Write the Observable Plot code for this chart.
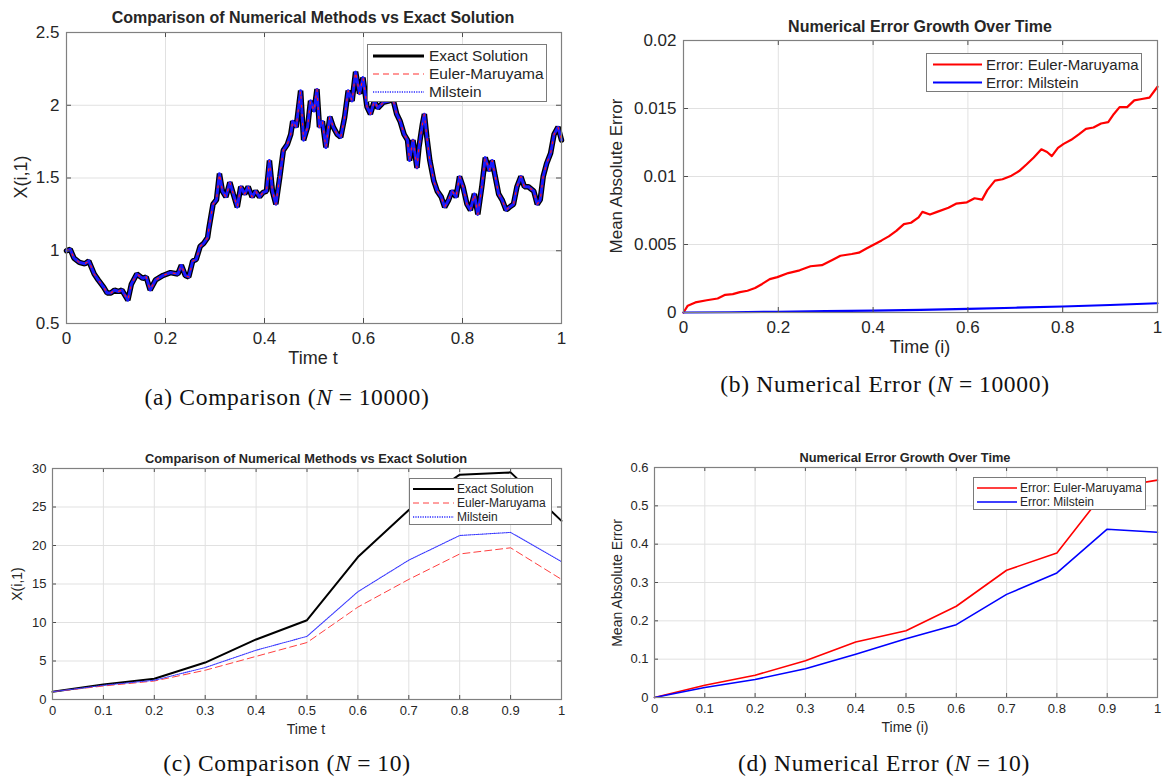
<!DOCTYPE html>
<html><head><meta charset="utf-8">
<script src="https://cdn.jsdelivr.net/npm/d3@7"></script>
<script src="https://cdn.jsdelivr.net/npm/@observablehq/plot@0.6"></script>
<style>
body{margin:0;background:#fff;}
#root{position:relative;width:1164px;height:781px;overflow:hidden;background:#fff;font-family:"Liberation Sans",Arial,sans-serif;color:#262626;}
.abs{position:absolute;white-space:nowrap;}
.ttl{font-weight:bold;color:#262626;transform:translate(-50%,-50%);}
.lab{color:#262626;transform:translate(-50%,-50%);}
.ylab{color:#262626;transform:translate(-50%,-50%) rotate(-90deg);}
.cap{font-family:"Liberation Serif","Times New Roman",serif;color:#111;transform:translate(-50%,-50%);letter-spacing:0.7px;}
.cap .eq{margin:0 6px;}
.leg{border:1px solid #7a7a7a;background:#fff;box-sizing:border-box;}
.leg .row{position:absolute;left:0;display:flex;align-items:center;transform:translateY(-50%);}
.leg svg{display:block;}
</style></head>
<body><div id="root"></div>
<script>
// ---------- Data ----------
// (a) N = 10000 : sample path
const tA = [0,0.0075,0.015,0.026,0.037,0.045,0.056,0.064,0.075,0.082,0.09,0.097,0.105,0.112,0.124,0.131,0.142,0.154,0.161,0.169,0.18,0.195,0.21,0.225,0.232,0.24,0.247,0.255,0.262,0.27,0.277,0.285,0.288,0.296,0.303,0.309,0.315,0.322,0.33,0.337,0.345,0.352,0.36,0.367,0.375,0.382,0.39,0.397,0.404,0.41,0.416,0.423,0.431,0.438,0.446,0.453,0.457,0.464,0.473,0.479,0.487,0.493,0.5,0.506,0.511,0.517,0.524,0.532,0.539,0.547,0.554,0.562,0.569,0.577,0.584,0.592,0.599,0.607,0.614,0.622,0.629,0.64,0.652,0.659,0.667,0.674,0.682,0.689,0.693,0.7,0.708,0.712,0.719,0.723,0.728,0.734,0.742,0.749,0.757,0.764,0.772,0.779,0.787,0.794,0.801,0.809,0.816,0.824,0.831,0.839,0.846,0.854,0.86,0.865,0.873,0.88,0.888,0.895,0.903,0.91,0.918,0.925,0.933,0.944,0.951,0.957,0.963,0.97,0.978,0.985,0.993,1];
const exactA = [1.0,1.01,0.95,0.92,0.91,0.93,0.84,0.8,0.75,0.71,0.71,0.73,0.72,0.73,0.66,0.77,0.84,0.81,0.82,0.73,0.8,0.83,0.85,0.84,0.9,0.83,0.82,0.93,0.94,1.03,1.05,1.09,1.16,1.32,1.35,1.53,1.41,1.37,1.47,1.39,1.3,1.44,1.39,1.44,1.37,1.41,1.37,1.4,1.41,1.62,1.41,1.32,1.51,1.69,1.73,1.8,1.89,1.85,2.1,1.76,1.85,2.03,1.96,2.11,1.85,1.89,1.71,1.92,1.85,1.8,1.78,1.92,2.1,2.03,2.23,2.08,2.19,1.99,1.94,2.03,1.98,2.02,2.03,2.05,1.94,1.89,1.8,1.76,1.62,1.76,1.57,1.71,1.87,1.94,1.78,1.62,1.48,1.41,1.37,1.3,1.35,1.41,1.37,1.51,1.44,1.32,1.28,1.39,1.25,1.44,1.64,1.55,1.62,1.53,1.39,1.35,1.28,1.3,1.32,1.44,1.51,1.44,1.44,1.41,1.32,1.35,1.51,1.6,1.67,1.8,1.85,1.76];
// Euler-Maruyama and Milstein paths coincide with the exact path at this scale
const eulerA = [1.0,1.01,0.95,0.92,0.91,0.93,0.84,0.8,0.75,0.71,0.71,0.73,0.72,0.73,0.66,0.77,0.84,0.81,0.82,0.73,0.8,0.83,0.85,0.84,0.9,0.83,0.82,0.93,0.94,1.03,1.05,1.09,1.16,1.32,1.35,1.53,1.41,1.37,1.47,1.39,1.3,1.44,1.39,1.44,1.37,1.41,1.37,1.4,1.41,1.62,1.41,1.32,1.51,1.69,1.73,1.8,1.89,1.85,2.1,1.76,1.85,2.03,1.96,2.11,1.85,1.89,1.71,1.92,1.85,1.8,1.78,1.92,2.1,2.03,2.23,2.08,2.19,1.99,1.94,2.03,1.98,2.02,2.03,2.05,1.94,1.89,1.8,1.76,1.62,1.76,1.57,1.71,1.87,1.94,1.78,1.62,1.48,1.41,1.37,1.3,1.35,1.41,1.37,1.51,1.44,1.32,1.28,1.39,1.25,1.44,1.64,1.55,1.62,1.53,1.39,1.35,1.28,1.3,1.32,1.44,1.51,1.44,1.44,1.41,1.32,1.35,1.51,1.6,1.67,1.8,1.85,1.76];
const milsteinA = [1.0,1.01,0.95,0.92,0.91,0.93,0.84,0.8,0.75,0.71,0.71,0.73,0.72,0.73,0.66,0.77,0.84,0.81,0.82,0.73,0.8,0.83,0.85,0.84,0.9,0.83,0.82,0.93,0.94,1.03,1.05,1.09,1.16,1.32,1.35,1.53,1.41,1.37,1.47,1.39,1.3,1.44,1.39,1.44,1.37,1.41,1.37,1.4,1.41,1.62,1.41,1.32,1.51,1.69,1.73,1.8,1.89,1.85,2.1,1.76,1.85,2.03,1.96,2.11,1.85,1.89,1.71,1.92,1.85,1.8,1.78,1.92,2.1,2.03,2.23,2.08,2.19,1.99,1.94,2.03,1.98,2.02,2.03,2.05,1.94,1.89,1.8,1.76,1.62,1.76,1.57,1.71,1.87,1.94,1.78,1.62,1.48,1.41,1.37,1.3,1.35,1.41,1.37,1.51,1.44,1.32,1.28,1.39,1.25,1.44,1.64,1.55,1.62,1.53,1.39,1.35,1.28,1.3,1.32,1.44,1.51,1.44,1.44,1.41,1.32,1.35,1.51,1.6,1.67,1.8,1.85,1.76];

// (b) N = 10000 : mean absolute error
const tB = [0,0.009,0.025,0.049,0.072,0.088,0.104,0.119,0.135,0.151,0.166,0.182,0.198,0.221,0.245,0.268,0.292,0.316,0.331,0.355,0.37,0.386,0.402,0.418,0.433,0.449,0.465,0.48,0.496,0.504,0.52,0.535,0.559,0.575,0.598,0.614,0.63,0.641,0.657,0.673,0.692,0.708,0.724,0.739,0.755,0.767,0.777,0.79,0.802,0.818,0.834,0.849,0.865,0.881,0.896,0.908,0.92,0.936,0.951,0.967,0.983,1];
const errEulerB = [0,0.0005,0.00074,0.0009,0.00103,0.0013,0.00135,0.0015,0.0016,0.0018,0.0021,0.00245,0.0026,0.0029,0.0031,0.0034,0.00348,0.0039,0.00417,0.0043,0.0044,0.0047,0.005,0.0053,0.0056,0.006,0.0065,0.0066,0.007,0.0074,0.0072,0.0074,0.0077,0.008,0.0081,0.0084,0.0083,0.009,0.0097,0.0098,0.01006,0.0104,0.0109,0.0114,0.012,0.0118,0.0115,0.0121,0.0124,0.0127,0.0131,0.0135,0.0136,0.0139,0.014,0.0146,0.0151,0.0151,0.0156,0.0157,0.0158,0.0166];
const tBm = [0,0.1,0.2,0.3,0.4,0.5,0.6,0.7,0.8,0.9,1];
const errMilsteinB = [0,0.00002,0.00005,0.0001,0.00014,0.0002,0.00027,0.00035,0.00044,0.00055,0.00068];

// (c) N = 10
const tC = [0,0.1,0.2,0.3,0.4,0.5,0.6,0.7,0.8,0.9,1];
const exactC = [1.0,1.95,2.7,4.8,7.8,10.3,18.5,24.6,29.2,29.5,23.2];
const eulerC = [1.0,1.75,2.4,3.8,5.6,7.4,12.0,15.6,18.9,19.7,15.6];
const milsteinC = [1.0,1.85,2.5,4.15,6.4,8.2,14.0,18.1,21.3,21.7,17.9];

// (d) N = 10
const errEulerD = [0,0.032,0.058,0.096,0.145,0.174,0.238,0.332,0.377,0.545,0.567];
const errMilsteinD = [0,0.026,0.047,0.075,0.113,0.153,0.19,0.269,0.325,0.439,0.431];

// ticks
const xTicks5 = [0,0.2,0.4,0.6,0.8,1];
const xTicks10 = [0,0.1,0.2,0.3,0.4,0.5,0.6,0.7,0.8,0.9,1];
const yTicksA = [0.5,1,1.5,2,2.5];
const yTicksB = [0,0.005,0.01,0.015,0.02];
const yTicksC = [0,5,10,15,20,25,30];
const yTicksD = [0,0.1,0.2,0.3,0.4,0.5,0.6];

// ---------- Drawing ----------
const root = document.getElementById("root");
const fmt = d => String(+d.toFixed(4));
const rows = (t, v) => t.map((x, i) => ({t: x, v: v[i]}));

function panel(o) {
  const ph = o.height - o.mt - o.mb, pw = o.width - o.ml - o.mr, tk = o.tk;
  const svg = Plot.plot({
    width: o.width, height: o.height,
    marginLeft: o.ml, marginRight: o.mr, marginTop: o.mt, marginBottom: o.mb,
    style: {fontFamily: '"Liberation Sans", Arial, sans-serif', color: "#262626", background: "transparent", overflow: "visible"},
    x: {domain: [0, 1]},
    y: {domain: o.yDomain},
    marks: [
      Plot.gridX(o.xTicks, {stroke: "#e1e1e1", strokeOpacity: 1, strokeWidth: 1}),
      Plot.gridY(o.yTicks, {stroke: "#e1e1e1", strokeOpacity: 1, strokeWidth: 1}),
      ...o.marks,
      Plot.ruleX(o.xTicks, {stroke: "#4d4d4d", insetTop: ph - tk}),
      Plot.ruleX(o.xTicks, {stroke: "#4d4d4d", insetBottom: ph - tk}),
      Plot.ruleY(o.yTicks, {stroke: "#4d4d4d", insetRight: pw - tk}),
      Plot.ruleY(o.yTicks, {stroke: "#4d4d4d", insetLeft: pw - tk}),
      Plot.frame({stroke: "#808080", strokeWidth: 1.2}),
      Plot.axisX(o.xTicks, {tickSize: 0, tickPadding: o.xPad, fontSize: o.fs, tickFormat: fmt, label: null, fill: "#262626"}),
      Plot.axisY(o.yTicks, {tickSize: 0, tickPadding: o.yPad, fontSize: o.fs, tickFormat: fmt, label: null, fill: "#262626"})
    ]
  });
  svg.style.position = "absolute";
  svg.style.left = o.left + "px";
  svg.style.top = o.top + "px";
  root.appendChild(svg);
}

function text(cls, html, x, y, size) {
  const d = document.createElement("div");
  d.className = "abs " + cls;
  d.innerHTML = html;
  d.style.left = x + "px"; d.style.top = y + "px"; d.style.fontSize = size + "px";
  root.appendChild(d);
}

function legend(x, y, w, h, size, items, sw) {
  const d = document.createElement("div");
  d.className = "abs leg";
  Object.assign(d.style, {left: x + "px", top: y + "px", width: w + "px", height: h + "px", fontSize: size + "px"});
  items.forEach(it => {
    const r = document.createElement("div");
    r.className = "row";
    r.style.top = it.y + "px";
    r.style.left = it.x0 + "px";
    r.innerHTML = `<svg width="${sw}" height="8"><line x1="0" x2="${sw}" y1="4" y2="4" stroke="${it.c}" stroke-width="${it.w}" ${it.dash ? `stroke-dasharray="${it.dash}"` : ""}/></svg><span style="margin-left:${it.gap}px">${it.label}</span>`;
    d.appendChild(r);
  });
  root.appendChild(d);
}

const cap = (a, b, n) => `${a} ${b} (<i>N</i><span class="eq">=</span>${n})`;

// (a)
panel({left: 0, top: 0, width: 580, height: 362, ml: 66, mr: 19, mt: 32, mb: 39,
  yDomain: [0.5, 2.5], xTicks: xTicks5, yTicks: yTicksA, fs: 17, xPad: 8, yPad: 7, tk: 5,
  marks: [
    Plot.line(rows(tA, exactA), {x: "t", y: "v", stroke: "#000", strokeWidth: 5.5, strokeLinejoin: "miter"}),
    Plot.line(rows(tA, milsteinA), {x: "t", y: "v", stroke: "#1a1aff", strokeWidth: 3, strokeDasharray: "2,1"}),
    Plot.line(rows(tA, eulerA), {x: "t", y: "v", stroke: "#ff1a1a", strokeWidth: 1.2, strokeDasharray: "2,7"})
  ]});
text("ttl", "Comparison of Numerical Methods vs Exact Solution", 313, 18, 16);
text("lab", "Time t", 313, 358, 18);
text("ylab", "X(i,1)", 21, 177, 18);
legend(367, 44, 180, 58, 15.5, [
  {y: 11, x0: 5, c: "#000", w: 3, label: "Exact Solution", gap: 5},
  {y: 29, x0: 5, c: "#ff3030", w: 1.2, dash: "6,4", label: "Euler-Maruyama", gap: 5},
  {y: 47, x0: 5, c: "#2a2aff", w: 1.5, dash: "1.2,1.2", label: "Milstein", gap: 5}
], 51);
text("cap", cap("(a)", "Comparison", "10000"), 287, 397, 23.5);

// (b)
panel({left: 580, top: 0, width: 584, height: 350, ml: 103, mr: 7, mt: 40, mb: 38,
  yDomain: [0, 0.02], xTicks: xTicks5, yTicks: yTicksB, fs: 17, xPad: 8, yPad: 7, tk: 5,
  marks: [
    Plot.line(rows(tB, errEulerB), {x: "t", y: "v", stroke: "#ff0000", strokeWidth: 2.2}),
    Plot.line(rows(tBm, errMilsteinB), {x: "t", y: "v", stroke: "#0000ff", strokeWidth: 2.2})
  ]});
text("ttl", "Numerical Error Growth Over Time", 920, 27, 16);
text("lab", "Time (i)", 920, 347, 18);
text("ylab", "Mean Absolute Error", 617, 176, 17);
legend(926, 53, 216, 39, 15, [
  {y: 10, x0: 6, c: "#ff0000", w: 2, label: "Error: Euler-Maruyama", gap: 4},
  {y: 28, x0: 6, c: "#0000ff", w: 2, label: "Error: Milstein", gap: 4}
], 49);
text("cap", cap("(b)", "Numerical Error", "10000"), 885, 384, 23.5);

// (c)
panel({left: 0, top: 440, width: 580, height: 300, ml: 52, mr: 19, mt: 28, mb: 41,
  yDomain: [0, 30], xTicks: xTicks10, yTicks: yTicksC, fs: 13, xPad: 6, yPad: 6, tk: 4,
  marks: [
    Plot.line(rows(tC, exactC), {x: "t", y: "v", stroke: "#000", strokeWidth: 2}),
    Plot.line(rows(tC, eulerC), {x: "t", y: "v", stroke: "#ff4040", strokeWidth: 1, strokeDasharray: "7,4"}),
    Plot.line(rows(tC, milsteinC), {x: "t", y: "v", stroke: "#3a3aff", strokeWidth: 1.1, strokeDasharray: "1,1"})
  ]});
text("ttl", "Comparison of Numerical Methods vs Exact Solution", 306, 458, 12.8);
text("lab", "Time t", 306, 729, 14);
text("ylab", "X(i,1)", 17, 584, 14);
legend(409, 478, 143, 47, 12, [
  {y: 10, x0: 3, c: "#000", w: 2.2, label: "Exact Solution", gap: 3},
  {y: 24, x0: 3, c: "#ff4040", w: 1, dash: "6,4", label: "Euler-Maruyama", gap: 3},
  {y: 38, x0: 3, c: "#2a2aff", w: 1.3, dash: "1.2,1.2", label: "Milstein", gap: 3}
], 41);
text("cap", cap("(c)", "Comparison", "10"), 287, 763, 23.5);

// (d)
panel({left: 580, top: 440, width: 584, height: 300, ml: 74, mr: 7, mt: 27, mb: 43,
  yDomain: [0, 0.6], xTicks: xTicks10, yTicks: yTicksD, fs: 13, xPad: 6, yPad: 6, tk: 4,
  marks: [
    Plot.line(rows(tC, errEulerD), {x: "t", y: "v", stroke: "#ff0000", strokeWidth: 1.6}),
    Plot.line(rows(tC, errMilsteinD), {x: "t", y: "v", stroke: "#0000ff", strokeWidth: 1.6})
  ]});
text("ttl", "Numerical Error Growth Over Time", 905, 457, 12.8);
text("lab", "Time (i)", 905, 727, 14);
text("ylab", "Mean Absolute Error", 617, 583, 14);
legend(973, 477, 173, 33, 12, [
  {y: 10, x0: 3, c: "#ff0000", w: 1.6, label: "Error: Euler-Maruyama", gap: 3},
  {y: 24, x0: 3, c: "#0000ff", w: 1.6, label: "Error: Milstein", gap: 3}
], 40);
text("cap", cap("(d)", "Numerical Error", "10"), 884, 763, 23.5);
</script>
</body></html>
